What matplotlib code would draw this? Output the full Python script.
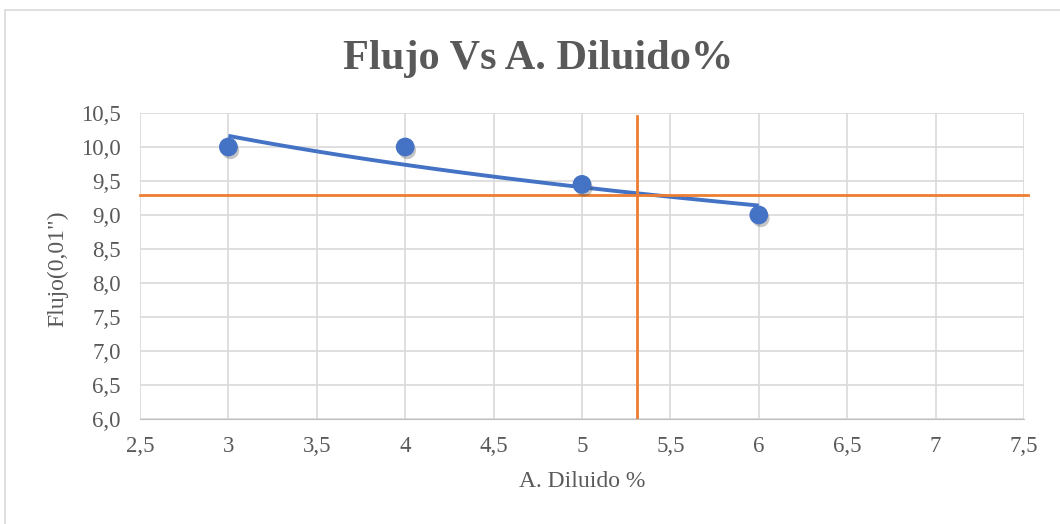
import numpy as np
import matplotlib
matplotlib.use("Agg")
from matplotlib import pyplot as plt
from matplotlib import patheffects as pe
from matplotlib.ticker import FuncFormatter
from matplotlib.patches import Rectangle

plt.rcParams['font.family'] = ['Liberation Serif', 'DejaVu Serif']

# datos
diluido = [3, 4, 5, 6]
flujo = [10.0, 10.0, 9.45, 9.0]
flujo_ref = 9.3      # linea horizontal
diluido_ref = 5.31   # linea vertical

gris = '#595959'
azul = '#4472C4'
naranja = '#ED7D31'

fig = plt.figure(figsize=(10.6, 5.24), dpi=100)
fig.patches.append(Rectangle((5/1060, -0.01), 1.02, 1 - 10/524 + 0.01, transform=fig.transFigure,
                             fill=False, edgecolor='#D9D9D9', lw=1.2))
ax = fig.add_axes([140/1060, 105/524, 884/1060, 306/524])

# tendencia logaritmica
b, a = np.polyfit(np.log(diluido), flujo, 1)
xs = np.linspace(min(diluido), max(diluido), 100)
ax.plot(xs, a + b*np.log(xs), color=azul, lw=2.8, zorder=3, solid_capstyle='butt')

ax.plot([2.5, 7.52], [flujo_ref, flujo_ref], color=naranja, lw=2.0, zorder=4, clip_on=False)
ax.plot([diluido_ref, diluido_ref], [6.0, 10.45], color=naranja, lw=2.0, zorder=4)

ax.plot(diluido, flujo, 'o', color=azul, ms=12.5, zorder=5,
        path_effects=[pe.SimplePatchShadow(offset=(1.5, -2.5), shadow_rgbFace='#404040', alpha=0.3), pe.Normal()])

ax.set_xlim(2.5, 7.5)
ax.set_ylim(6.0, 10.5)
ax.set_xticks(np.arange(2.5, 7.51, 0.5))
ax.set_yticks(np.arange(6.0, 10.51, 0.5))
ax.xaxis.set_major_formatter(FuncFormatter(lambda v, p: ('%g' % v).replace('.', ',')))
ax.yaxis.set_major_formatter(FuncFormatter(lambda v, p: ('%.1f' % v).replace('.', ',')))
ax.grid(True, color='#D9D9D9', lw=1.2)
ax.set_axisbelow(True)
for s in ax.spines.values():
    s.set_visible(False)
ax.spines['bottom'].set_visible(True)
ax.spines['bottom'].set_color('#BFBFBF')
ax.tick_params(length=0, labelsize=16.5, colors=gris)
ax.tick_params(axis='y', pad=14)
ax.tick_params(axis='x', pad=12)

ax.set_xlabel('A. Diluido %', fontsize=17, color=gris, labelpad=10)
ax.set_ylabel('Flujo(0,01")', fontsize=17, color=gris)
ax.yaxis.set_label_coords(-(140 - 68)/884, 0.49)
fig.text(538/1060, 1 - 69/524, 'Flujo Vs A. Diluido%', ha='center', va='baseline',
         fontsize=30.5, fontweight='bold', color=gris)

fig.savefig('out.png', dpi=100)
